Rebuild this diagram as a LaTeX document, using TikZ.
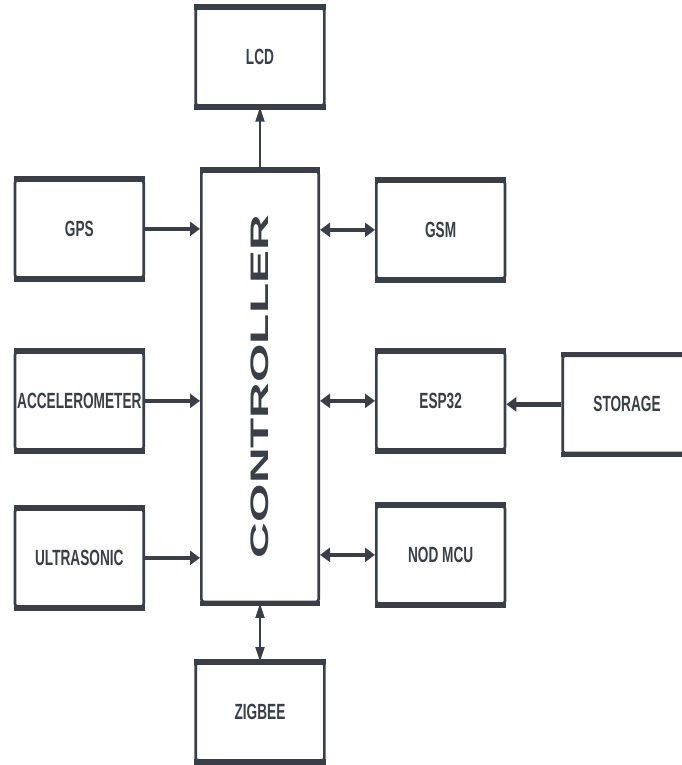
\documentclass[tikz,border=0pt]{standalone}
\usepackage{fontspec}
\setmainfont{Liberation Sans}
\newfontfamily\rotulo{Liberation Sans}[FakeStretch=0.62]
\newfontfamily\rotuloLargo{Liberation Sans}[FakeStretch=1.95]
\usepackage{xcolor}
\usetikzlibrary{arrows.meta,positioning}
\definecolor{traco}{RGB}{58,62,70}
\tikzset{
    bloco/.style={
        rectangle,
        draw=traco,
        line width=2pt,
        rounded corners=2pt,
        align=center,
        inner sep=0pt,
        minimum width=96.5pt,
        minimum height=73pt,
        text=traco,
        font=\rotulo\bfseries\fontsize{16.5}{19}\selectfont
    },
    controlador/.style={bloco, minimum width=88pt, minimum height=323pt,
        font=\rotuloLargo\bfseries\fontsize{19}{22}\selectfont},
    borda/.style={draw=traco, line width=4pt},
    fluxo/.style={-{Triangle[length=7.5pt,width=10.5pt]}, line width=3.3pt, draw=traco},
    fluxoDuplo/.style={fluxo, {Triangle[length=7.5pt,width=10.5pt]}-{Triangle[length=7.5pt,width=10.5pt]}},
    fluxoV/.style={-{Triangle[length=11pt,width=6.5pt]}, line width=2pt, draw=traco},
    fluxoVDuplo/.style={fluxoV, {Triangle[length=11pt,width=6.5pt]}-{Triangle[length=11pt,width=6.5pt]}}
}

\begin{document}
\begin{tikzpicture}
    \useasboundingbox (0,0) rectangle (511.5pt,-573.75pt);

    \node[controlador] (ctrl) at (195pt,-289.9pt) {\rotatebox{90}{CONTROLLER}};

    \node[bloco, above=47.25pt of ctrl] (lcd) {LCD};
    \node[bloco, below=44pt of ctrl] (zigbee) {ZIGBEE};

    % entradas
    \node[bloco, below left=6.75pt and 41.25pt of ctrl.north west] (gps) {GPS};
    \node[bloco, below=54pt of gps] (accel) {ACCELEROMETER};
    \node[bloco, below=42.75pt of accel] (ultra) {ULTRASONIC};

    % modulos
    \node[bloco, below right=7.5pt and 41.25pt of ctrl.north east] (gsm) {GSM};
    \node[bloco, below=53.25pt of gsm] (esp) {ESP32};
    \node[bloco, below=40.5pt of esp] (nodmcu) {NOD MCU};
    \node[bloco, right=41.25pt of esp, yshift=-2.6pt] (storage) {STORAGE};

    \foreach \n in {lcd,ctrl,zigbee,gps,accel,ultra,gsm,esp,nodmcu,storage}
        \draw[borda] (\n.north west) -- (\n.north east)
                     (\n.south west) -- (\n.south east);

    \draw[fluxo] (gps.east) -- (gps.east -| ctrl.west);
    \draw[fluxo] (accel.east) -- (accel.east -| ctrl.west);
    \draw[fluxo] (ultra.east) -- (ultra.east -| ctrl.west);
    \draw[fluxoDuplo] (gsm.west -| ctrl.east) -- (gsm.west);
    \draw[fluxoDuplo] (esp.west -| ctrl.east) -- (esp.west);
    \draw[fluxoDuplo] (nodmcu.west -| ctrl.east) -- (nodmcu.west);
    \draw[fluxo] (storage.west) -- (storage.west -| esp.east);
    \draw[fluxoV] (ctrl.north) -- (lcd.south);
    \draw[fluxoVDuplo] (ctrl.south) -- (zigbee.north);
\end{tikzpicture}
\end{document}
